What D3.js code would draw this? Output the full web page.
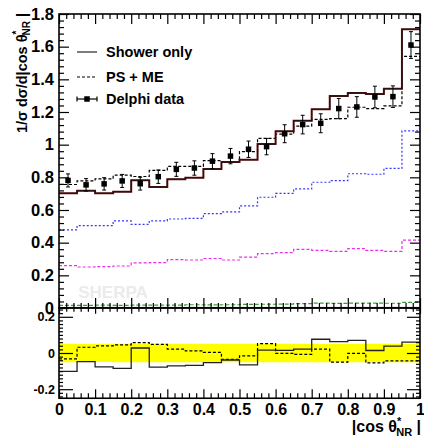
<!DOCTYPE html>
<html>
<head>
<meta charset="utf-8">
<script src="https://cdn.jsdelivr.net/npm/d3@7"></script>
<style>
  html, body { margin: 0; padding: 0; background: #fff; }
  svg { display: block; font-family: "Liberation Sans", Arial, sans-serif; font-weight: bold; }
</style>
</head>
<body>
<svg id="chart" width="424" height="437"></svg>
<script>
// Bin edges in |cos theta*_NR|
const binEdges = [0, 0.05, 0.1, 0.15, 0.2, 0.25, 0.3, 0.35, 0.4, 0.45, 0.5,
                  0.55, 0.6, 0.65, 0.7, 0.75, 0.8, 0.85, 0.9, 0.95, 1];

// Delphi measurement and its uncertainty
const delphi    = [0.781, 0.754, 0.760, 0.778, 0.761, 0.804, 0.849, 0.857, 0.899, 0.930,
                   0.972, 0.988, 1.067, 1.123, 1.131, 1.221, 1.231, 1.292, 1.294, 1.610];
const delphiErr = [0.040, 0.038, 0.038, 0.040, 0.039, 0.041, 0.043, 0.044, 0.046, 0.047,
                   0.050, 0.050, 0.055, 0.057, 0.058, 0.062, 0.063, 0.066, 0.066, 0.082];

// SHERPA predictions
const showerOnly = [0.702, 0.718, 0.702, 0.712, 0.782, 0.741, 0.789, 0.798, 0.851, 0.894,
                    0.908, 1.004, 1.082, 1.147, 1.217, 1.298, 1.317, 1.310, 1.343, 1.707];
const psMe       = [0.756, 0.778, 0.790, 0.813, 0.805, 0.842, 0.867, 0.867, 0.902, 0.897,
                    0.957, 1.039, 1.065, 1.114, 1.155, 1.159, 1.229, 1.221, 1.237, 1.540];

// Jet-multiplicity contributions to PS + ME
const partBlue    = [0.478, 0.504, 0.504, 0.533, 0.512, 0.533, 0.545, 0.549, 0.578, 0.588,
                     0.625, 0.678, 0.702, 0.729, 0.770, 0.780, 0.822, 0.819, 0.855, 1.084];
const partMagenta = [0.259, 0.251, 0.253, 0.257, 0.276, 0.278, 0.296, 0.294, 0.303, 0.294,
                     0.312, 0.333, 0.339, 0.359, 0.353, 0.347, 0.363, 0.353, 0.347, 0.416];
const partGreen   = [0.016, 0.016, 0.017, 0.016, 0.018, 0.017, 0.018, 0.020, 0.019, 0.020,
                     0.022, 0.023, 0.024, 0.027, 0.030, 0.028, 0.030, 0.030, 0.029, 0.034];

// Tick labels
const xTickValues = [0, 0.1, 0.2, 0.3, 0.4, 0.5, 0.6, 0.7, 0.8, 0.9, 1];
const xTickLabels = ["0", "0.1", "0.2", "0.3", "0.4", "0.5", "0.6", "0.7", "0.8", "0.9", "1"];
const yTickValues = [0, 0.2, 0.4, 0.6, 0.8, 1, 1.2, 1.4, 1.6, 1.8];
const yTickLabels = ["0", "0.2", "0.4", "0.6", "0.8", "1", "1.2", "1.4", "1.6", "1.8"];
const rTickValues = [-0.2, 0, 0.2];
const rTickLabels = ["-0.2", "0", "0.2"];

const legendLabels = ["Shower only", "PS + ME", "Delphi data"];

// ---- layout ----
const svg = d3.select("#chart");
const L = 59, R = 420;
const mainTop = 14, mainBottom = 308;
const ratioTop = 307.75, ratioBottom = 398.25;
const FONT = "'Liberation Sans', Arial, sans-serif";

const x  = d3.scaleLinear().domain([0, 1]).range([L, R]);
const y  = d3.scaleLinear().domain([0, 1.8]).range([mainBottom, mainTop]);
const yr = d3.scaleLinear().domain([-0.25, 0.25]).range([ratioBottom, ratioTop]);

const defs = svg.append("defs");
defs.append("clipPath").attr("id", "clipMain")
  .append("rect").attr("x", L).attr("y", mainTop).attr("width", R - L).attr("height", mainBottom - mainTop);
defs.append("clipPath").attr("id", "clipRatio")
  .append("rect").attr("x", L).attr("y", ratioTop).attr("width", R - L).attr("height", ratioBottom - ratioTop);

function stepPath(vals, ys) {
  const pts = vals.map((v, i) => [binEdges[i], v]);
  pts.push([binEdges[vals.length], vals[vals.length - 1]]);
  return d3.line().x(d => x(d[0])).y(d => ys(d[1])).curve(d3.curveStepAfter)(pts);
}

// ---- watermark ----
svg.append("text").attr("x", 113).attr("y", 298).attr("text-anchor", "middle")
  .attr("font-size", 17).attr("fill", "#ebebeb").attr("font-family", FONT)
  .text("SHERPA");

// ---- main panel curves ----
const gMain = svg.append("g").attr("clip-path", "url(#clipMain)");

gMain.append("path").attr("d", stepPath(partGreen, y)).attr("fill", "none")
  .attr("stroke", "#3c9a3c").attr("stroke-width", 1.2).attr("stroke-dasharray", "4,2");
gMain.append("path").attr("d", stepPath(partMagenta, y)).attr("fill", "none")
  .attr("stroke", "#ee2cee").attr("stroke-width", 1.2).attr("stroke-dasharray", "3,2");
gMain.append("path").attr("d", stepPath(partBlue, y)).attr("fill", "none")
  .attr("stroke", "#3434ff").attr("stroke-width", 1.2).attr("stroke-dasharray", "2,2");
gMain.append("path").attr("d", stepPath(psMe, y)).attr("fill", "none")
  .attr("stroke", "#000").attr("stroke-width", 1.2).attr("stroke-dasharray", "3,2");
gMain.append("path").attr("d", stepPath(showerOnly, y)).attr("fill", "none")
  .attr("stroke", "#5a1212").attr("stroke-width", 2);
gMain.append("path").attr("d", stepPath(showerOnly, y)).attr("fill", "none")
  .attr("stroke", "#111").attr("stroke-width", 0.8);

// Delphi points
const centers = delphi.map((d, i) => (binEdges[i] + binEdges[i + 1]) / 2);
const pts = gMain.selectAll("g.pt").data(delphi).join("g").attr("class", "pt");
pts.append("line")
  .attr("x1", (d, i) => x(centers[i])).attr("x2", (d, i) => x(centers[i]))
  .attr("y1", (d, i) => y(d + delphiErr[i])).attr("y2", (d, i) => y(d - delphiErr[i]))
  .attr("stroke", "#000").attr("stroke-width", 1);
[1, -1].forEach(sgn => {
  pts.append("line")
    .attr("x1", (d, i) => x(centers[i]) - 2).attr("x2", (d, i) => x(centers[i]) + 2)
    .attr("y1", (d, i) => y(d + sgn * delphiErr[i])).attr("y2", (d, i) => y(d + sgn * delphiErr[i]))
    .attr("stroke", "#000").attr("stroke-width", 1);
});
pts.append("rect")
  .attr("x", (d, i) => x(centers[i]) - 2.75).attr("y", d => y(d) - 2.75)
  .attr("width", 5.5).attr("height", 5.5).attr("fill", "#000");

// ---- ratio panel ----
const gRatio = svg.append("g").attr("clip-path", "url(#clipRatio)");
const relErr = delphi.map((d, i) => delphiErr[i] / d);
const bandPts = relErr.map((e, i) => [binEdges[i], e]);
bandPts.push([binEdges[relErr.length], relErr[relErr.length - 1]]);
gRatio.append("path")
  .attr("d", d3.area().x(d => x(d[0])).y0(d => yr(-d[1])).y1(d => yr(d[1])).curve(d3.curveStepAfter)(bandPts))
  .attr("fill", "#ffff00");

const ratioShower = showerOnly.map((v, i) => (v - delphi[i]) / delphi[i]);
const ratioPsMe   = psMe.map((v, i) => (v - delphi[i]) / delphi[i]);
gRatio.append("path").attr("d", stepPath(ratioPsMe, yr)).attr("fill", "none")
  .attr("stroke", "#000").attr("stroke-width", 1.2).attr("stroke-dasharray", "3,2");
gRatio.append("path").attr("d", stepPath(ratioShower, yr)).attr("fill", "none")
  .attr("stroke", "#222").attr("stroke-width", 1.3);

// ---- axes ----
const minorX = d3.range(0, 1.0001, 0.02).filter(v => Math.abs(v * 10 - Math.round(v * 10)) > 1e-6);
const minorY = d3.range(0, 1.8001, 0.04).filter(v => Math.abs(v * 5 - Math.round(v * 5)) > 1e-6);
const minorR = d3.range(-0.24, 0.2401, 0.02).filter(v => Math.abs(v * 5 - Math.round(v * 5)) > 1e-6);

function drawAxis(axis, tx, ty) {
  const g = svg.append("g").attr("transform", `translate(${tx},${ty})`).call(axis);
  g.select(".domain").remove();
  g.selectAll("line").attr("stroke", "#000").attr("stroke-width", 1.2);
  g.attr("font-family", FONT).attr("font-weight", "bold");
  return g;
}
const noLabel = () => "";

// main panel: left with labels
drawAxis(d3.axisLeft(y).tickValues(yTickValues).tickSize(-10).tickPadding(5)
  .tickFormat((d, i) => yTickLabels[i]), L, 0)
  .attr("font-size", 16.5).selectAll("text").attr("fill", "#000");
drawAxis(d3.axisLeft(y).tickValues(minorY).tickSize(-5).tickFormat(noLabel), L, 0);
drawAxis(d3.axisRight(y).tickValues(yTickValues).tickSize(-10).tickFormat(noLabel), R, 0);
drawAxis(d3.axisRight(y).tickValues(minorY).tickSize(-5).tickFormat(noLabel), R, 0);
drawAxis(d3.axisTop(x).tickValues(xTickValues).tickSize(-10).tickFormat(noLabel), 0, mainTop);
drawAxis(d3.axisTop(x).tickValues(minorX).tickSize(-5).tickFormat(noLabel), 0, mainTop);
drawAxis(d3.axisBottom(x).tickValues(xTickValues).tickSize(-10).tickFormat(noLabel), 0, mainBottom);
drawAxis(d3.axisBottom(x).tickValues(minorX).tickSize(-5).tickFormat(noLabel), 0, mainBottom);

// ratio panel
drawAxis(d3.axisLeft(yr).tickValues(rTickValues).tickSize(-14).tickPadding(4)
  .tickFormat((d, i) => rTickLabels[i]), L, 0)
  .attr("font-size", 12.5).selectAll("text").attr("fill", "#000");
drawAxis(d3.axisLeft(yr).tickValues(minorR).tickSize(-4).tickFormat(noLabel), L, 0);
drawAxis(d3.axisRight(yr).tickValues(rTickValues).tickSize(-13).tickFormat(noLabel), R, 0);
drawAxis(d3.axisRight(yr).tickValues(minorR).tickSize(-4).tickFormat(noLabel), R, 0);
drawAxis(d3.axisTop(x).tickValues(xTickValues).tickSize(-6).tickFormat(noLabel), 0, ratioTop);
drawAxis(d3.axisTop(x).tickValues(minorX).tickSize(-4).tickFormat(noLabel), 0, ratioTop);
drawAxis(d3.axisBottom(x).tickValues(xTickValues).tickSize(-9).tickPadding(5)
  .tickFormat((d, i) => xTickLabels[i]), 0, ratioBottom)
  .attr("font-size", 16).selectAll("text").attr("fill", "#000");
drawAxis(d3.axisBottom(x).tickValues(minorX).tickSize(-5).tickFormat(noLabel), 0, ratioBottom);

// frames
[[mainTop, mainBottom], [ratioTop, ratioBottom]].forEach(([t, b]) => {
  svg.append("rect").attr("x", L).attr("y", t).attr("width", R - L).attr("height", b - t)
    .attr("fill", "none").attr("stroke", "#000").attr("stroke-width", 1.6);
});

// ---- axis titles ----
const yTitle = svg.append("text")
  .attr("transform", "translate(22,13) rotate(-90)")
  .attr("text-anchor", "end").attr("dominant-baseline", "central")
  .attr("font-size", 14.5).attr("font-family", FONT).attr("fill", "#000");
yTitle.append("tspan").text("1/σ dσ/d|cos θ");
yTitle.append("tspan").attr("font-size", 10).attr("dy", -6).text("*");
yTitle.append("tspan").attr("font-size", 10).attr("dx", -5).attr("dy", 10).text("NR");
yTitle.append("tspan").attr("dy", -4).text(" |");

const xTitle = svg.append("text")
  .attr("x", 421).attr("y", 432).attr("text-anchor", "end")
  .attr("font-size", 16).attr("font-family", FONT).attr("fill", "#000");
xTitle.append("tspan").text("|cos θ");
xTitle.append("tspan").attr("font-size", 11).attr("dy", -7).text("*");
xTitle.append("tspan").attr("font-size", 11).attr("dx", -5).attr("dy", 11).text("NR");
xTitle.append("tspan").attr("dy", -4).text(" |");

// ---- legend ----
const legY = [52, 77, 99];
const leg = svg.append("g").attr("font-family", FONT).attr("font-size", 14.5);
leg.append("line").attr("x1", 77).attr("x2", 97).attr("y1", legY[0]).attr("y2", legY[0])
  .attr("stroke", "#444").attr("stroke-width", 1.4);
leg.append("line").attr("x1", 77).attr("x2", 97).attr("y1", legY[1]).attr("y2", legY[1])
  .attr("stroke", "#000").attr("stroke-width", 1.2).attr("stroke-dasharray", "3,2");
leg.append("line").attr("x1", 77).attr("x2", 97).attr("y1", legY[2]).attr("y2", legY[2])
  .attr("stroke", "#000").attr("stroke-width", 1.2);
[77, 97].forEach(xx => leg.append("line").attr("x1", xx).attr("x2", xx)
  .attr("y1", legY[2] - 2.5).attr("y2", legY[2] + 2.5).attr("stroke", "#000").attr("stroke-width", 1.2));
leg.append("rect").attr("x", 87 - 2.75).attr("y", legY[2] - 2.75).attr("width", 5.5).attr("height", 5.5).attr("fill", "#000");
leg.selectAll("text.lab").data(legendLabels).join("text").attr("class", "lab")
  .attr("x", 106).attr("y", (d, i) => legY[i]).attr("dominant-baseline", "central")
  .attr("fill", "#000").text(d => d);
</script>
</body>
</html>
